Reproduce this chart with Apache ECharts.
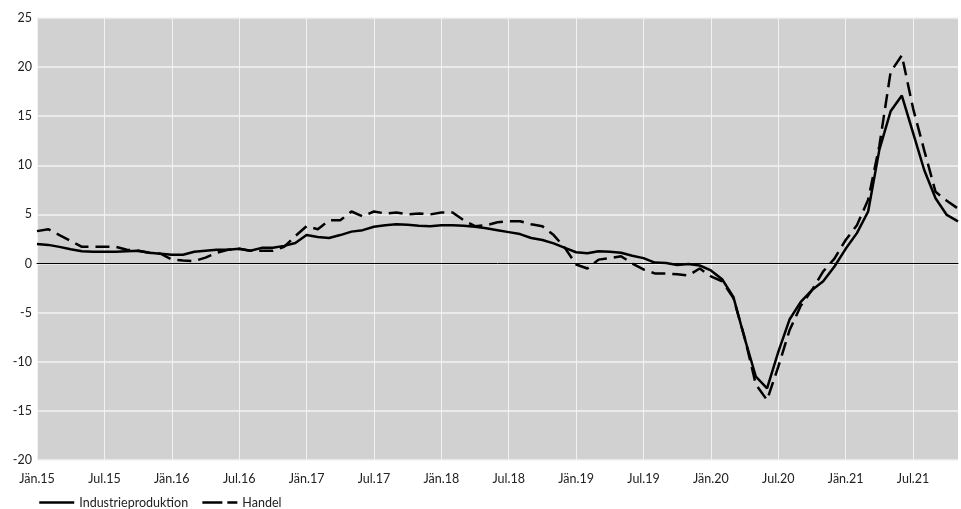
<!DOCTYPE html>
<html>
<head>
<meta charset="utf-8">
<script src="https://cdn.jsdelivr.net/npm/echarts@6/dist/echarts.min.js"></script>
<style>
  html, body { margin: 0; padding: 0; background: #fff; }
  #chart { width: 961px; height: 509px; }
</style>
</head>
<body>
<div id="chart"></div>
<script>
// Monatsnamen / Jahre für die Kategorien (Jän.15 bis Nov.21)
const monthNames = ["Jän", "Feb", "Mär", "Apr", "Mai", "Jun", "Jul", "Aug", "Sep", "Okt", "Nov", "Dez"];
const years = ["15", "16", "17", "18", "19", "20", "21"];
const categories = [];
years.forEach((y) => {
  monthNames.forEach((m) => {
    if (categories.length < 83) categories.push(m + "." + y);
  });
});

const industrie = [
  2.0, 1.9, 1.7, 1.45, 1.25, 1.2, 1.2, 1.2, 1.25, 1.3, 1.1, 1.0,
  0.9, 0.9, 1.2, 1.3, 1.4, 1.4, 1.5, 1.3, 1.6, 1.6, 1.8, 2.1,
  2.9, 2.7, 2.6, 2.9, 3.25, 3.4, 3.75, 3.9, 4.0, 3.95, 3.85, 3.8,
  3.9, 3.9, 3.85, 3.75, 3.6, 3.4, 3.2, 3.0, 2.6, 2.4, 2.05, 1.6,
  1.15, 1.05, 1.25, 1.2, 1.1, 0.8, 0.55, 0.1, 0.05, -0.15, -0.05, -0.2,
  -0.7, -1.6, -3.4, -7.6, -11.5, -12.7, -9.0, -5.7, -3.9, -2.7, -1.8, -0.3,
  1.5, 3.1, 5.3, 11.6, 15.5, 17.1, 13.3, 9.5, 6.65, 4.95, 4.3
];

const handel = [
  3.3, 3.5, 2.9, 2.3, 1.7, 1.7, 1.7, 1.7, 1.4, 1.3, 1.1, 1.0,
  0.4, 0.3, 0.25, 0.6, 1.1, 1.4, 1.5, 1.3, 1.3, 1.3, 1.7, 2.8,
  3.8, 3.5, 4.4, 4.4, 5.3, 4.8, 5.3, 5.1, 5.2, 5.0, 5.1, 5.0,
  5.2, 5.2, 4.4, 3.8, 3.9, 4.2, 4.3, 4.3, 4.0, 3.8, 2.9, 1.6,
  -0.1, -0.5, 0.4, 0.55, 0.75, 0.0, -0.6, -1.0, -1.0, -1.1, -1.2, -0.5,
  -1.3, -1.8, -3.5, -7.5, -12.3, -13.9, -10.5, -6.8, -4.3, -2.7, -0.8, 0.5,
  2.4, 3.9, 6.5, 12.0, 19.5, 21.2, 15.8, 11.5, 7.3, 6.4, 5.6
];

const yTicks = { min: -20, max: 25, interval: 5 };

const myChart = echarts.init(document.getElementById("chart"));
const option = {
  animation: false,
  textStyle: { fontFamily: "Lato", color: "#222" },
  grid: {
    left: 37,
    right: 3,
    top: 18,
    bottom: 49,
    show: true,
    backgroundColor: "#d1d1d1",
    borderWidth: 0,
  },
  legend: {
    left: 38,
    top: 496,
    padding: 0,
    itemWidth: 35,
    itemHeight: 14,
    itemGap: 13,
    itemStyle: { opacity: 0 },
    textStyle: { fontSize: 12.5, color: "#222", fontFamily: "Lato" },
    data: [
      { name: "Industrieproduktion", lineStyle: { type: "solid", width: 2.5, color: "#000" } },
      { name: "Handel", lineStyle: { type: [20, 5], width: 2.5, color: "#000" } },
    ],
  },
  xAxis: {
    type: "category",
    data: categories,
    boundaryGap: false,
    axisLine: { show: true, onZero: true, lineStyle: { color: "#000", width: 1 } },
    axisTick: { show: false },
    axisLabel: { interval: 5, fontSize: 12.5, color: "#222", margin: 12 },
    splitLine: { show: true, interval: 5, lineStyle: { color: "#f2f2f2", width: 1 } },
  },
  yAxis: {
    type: "value",
    min: yTicks.min,
    max: yTicks.max,
    interval: yTicks.interval,
    axisLine: { show: false },
    axisTick: { show: false },
    axisLabel: { fontSize: 12.5, color: "#222", margin: 5 },
    splitLine: { show: true, lineStyle: { color: "#f2f2f2", width: 1.5 } },
  },
  series: [
    {
      name: "Industrieproduktion",
      type: "line",
      data: industrie,
      symbol: "none",
      lineStyle: { color: "#000", width: 2.5 },
      itemStyle: { color: "#000" },
      z: 3,
    },
    {
      name: "Handel",
      type: "line",
      data: handel,
      symbol: "none",
      lineStyle: { color: "#000", width: 2.5, type: [14, 7] },
      itemStyle: { color: "#000" },
      z: 2,
    },
  ],
};
myChart.setOption(option);
</script>
</body>
</html>
